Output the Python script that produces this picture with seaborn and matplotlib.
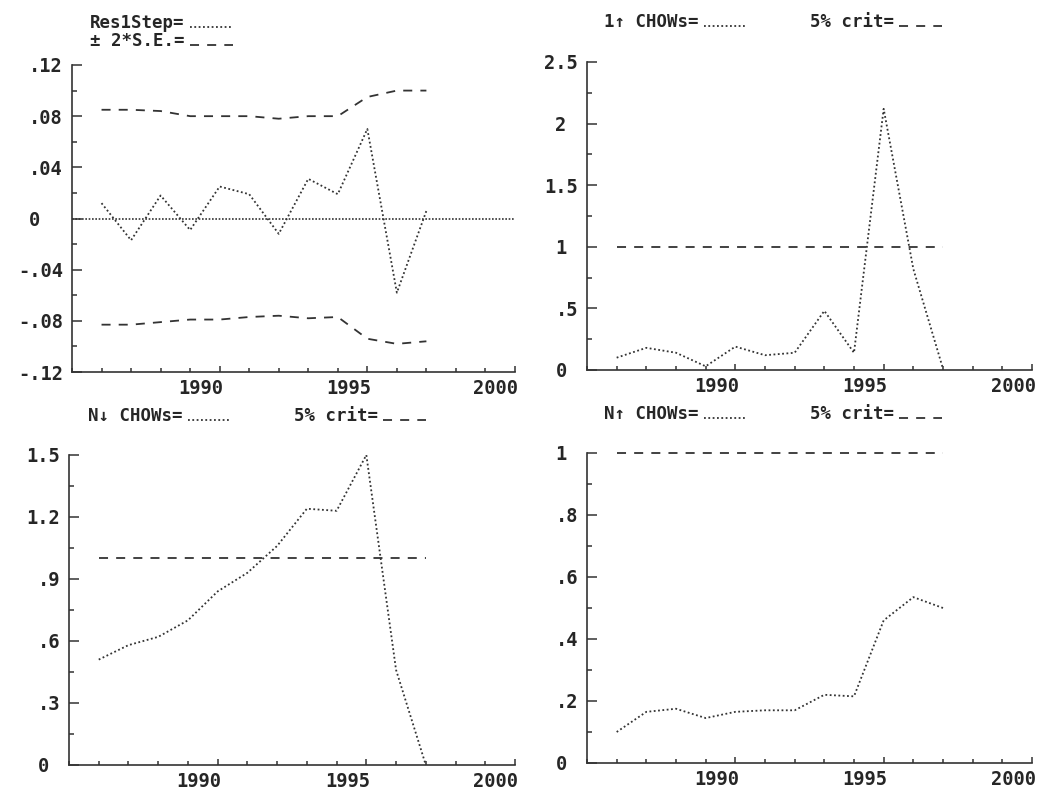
import matplotlib
matplotlib.use("Agg")
import matplotlib.pyplot as plt
import seaborn as sns
from matplotlib.ticker import FixedLocator, MultipleLocator
from matplotlib.transforms import ScaledTranslation
from matplotlib.font_manager import FontProperties

# ---------------- data ----------------
years = list(range(1986, 1998))

res1step = [0.012, -0.017, 0.018, -0.009, 0.025, 0.019, -0.012, 0.031, 0.019, 0.070, -0.058, 0.006]
se_upper = [0.085, 0.085, 0.084, 0.080, 0.080, 0.080, 0.078, 0.080, 0.080, 0.095, 0.100, 0.100]
se_lower = [-0.083, -0.083, -0.081, -0.079, -0.079, -0.077, -0.076, -0.078, -0.077, -0.094, -0.098, -0.096]

chow_1up = [0.10, 0.18, 0.14, 0.03, 0.19, 0.12, 0.14, 0.48, 0.14, 2.12, 0.82, 0.01]
chow_ndown = [0.51, 0.58, 0.62, 0.70, 0.84, 0.93, 1.06, 1.24, 1.23, 1.50, 0.46, 0.00]
chow_nup = [0.10, 0.165, 0.175, 0.145, 0.165, 0.17, 0.17, 0.22, 0.215, 0.46, 0.535, 0.50]
crit_5pct = [1.0] * 12

x_ticks = [1990, 1995, 2000]
x_labels = ["1990", "1995", "2000"]

p1_yticks = [-0.12, -0.08, -0.04, 0.0, 0.04, 0.08, 0.12]
p1_ylabels = ["-.12", "-.08", "-.04", "0", ".04", ".08", ".12"]
p2_yticks = [0, 0.5, 1.0, 1.5, 2.0, 2.5]
p2_ylabels = ["0", ".5", "1", "1.5", "2", "2.5"]
p3_yticks = [0, 0.3, 0.6, 0.9, 1.2, 1.5]
p3_ylabels = ["0", ".3", ".6", ".9", "1.2", "1.5"]
p4_yticks = [0, 0.2, 0.4, 0.6, 0.8, 1.0]
p4_ylabels = ["0", ".2", ".4", ".6", ".8", "1"]

lab_res = "Res1Step="
lab_se = "± 2*S.E.="
lab_1up = "1↑ CHOWs="
lab_ndn = "N↓ CHOWs="
lab_nup = "N↑ CHOWs="
lab_crit = "5% crit="

# ---------------- style ----------------
sns.set_theme(style="white")
plt.rcParams["font.family"] = ["DejaVu Sans Mono", "DejaVu Sans"]
plt.rcParams["font.weight"] = "bold"

W, H = 1043, 789
fig = plt.figure(figsize=(W / 100, H / 100), dpi=100)
fig.patch.set_facecolor("white")

INK = "#262626"
LINE = "#333333"
DOT = (0, (1, 1.4))
DASH = (0, (5, 4.5))
TICK_FS = 13.5
LEG_FS = 12.5


def make_ax(l, r, t, b):
    return fig.add_axes([l / W, 1 - b / H, (r - l) / W, (b - t) / H])


def style(ax, ylim, yticks, ylabels, yminor, ndec):
    ax.set_facecolor("white")
    ax.grid(False)
    ax.set_xlim(1985, 2000)
    ax.set_ylim(*ylim)
    ax.set_xlabel("")
    ax.set_ylabel("")
    for s in ("top", "right"):
        ax.spines[s].set_visible(False)
    for s in ("left", "bottom"):
        ax.spines[s].set_visible(True)
        ax.spines[s].set_color(LINE)
        ax.spines[s].set_linewidth(1.2)
    ax.xaxis.set_major_locator(FixedLocator(x_ticks))
    ax.set_xticklabels(x_labels)
    ax.xaxis.set_minor_locator(MultipleLocator(1))
    ax.yaxis.set_major_locator(FixedLocator(yticks))
    ax.set_yticklabels(ylabels)
    ax.yaxis.set_minor_locator(MultipleLocator(yminor))
    ax.tick_params(which="both", direction="in", color=LINE, labelcolor=INK,
                   labelsize=TICK_FS, width=1.1, bottom=True, left=True)
    ax.tick_params(axis="y", which="major", length=7, pad=6.5)
    ax.tick_params(axis="y", which="minor", length=3.6)
    ax.tick_params(axis="x", which="major", length=4.5, pad=5)
    ax.tick_params(axis="x", which="minor", length=2.6)
    for lab in ax.get_xticklabels():
        lab.set_fontweight("bold")
        lab.set_transform(lab.get_transform() +
                          ScaledTranslation(-19 / 100, 0, fig.dpi_scale_trans))
    adv = 0.602 * TICK_FS / 72.0
    for lab in ax.get_yticklabels():
        lab.set_fontweight("bold")
        if "." not in lab.get_text():
            lab.set_transform(lab.get_transform() +
                              ScaledTranslation(-ndec * adv, 0, fig.dpi_scale_trans))


def legend(ax, x_px, y_px, ncol, handles, labels, spacing=0.05, colsp=3.6):
    prop = FontProperties(family=["DejaVu Sans Mono", "DejaVu Sans"],
                          weight="bold", size=LEG_FS)
    leg = ax.legend(handles, labels, loc="center left",
                    bbox_to_anchor=(x_px / W, 1 - y_px / H),
                    bbox_transform=fig.transFigure, ncol=ncol,
                    markerfirst=False, frameon=False, prop=prop,
                    handlelength=2.5, handletextpad=0.3, columnspacing=colsp,
                    labelspacing=spacing, borderpad=0, borderaxespad=0)
    for t in leg.get_texts():
        t.set_color(INK)
    # sample lines sit on the text baseline, as in the reference
    for ln in leg.get_lines():
        yd = ln.get_ydata()
        ln.set_ydata([v - 0.3 * LEG_FS for v in yd])
    return leg


def dotted(ax, y, label):
    sns.lineplot(x=years, y=y, ax=ax, color=LINE, linestyle=DOT, linewidth=1.3,
                 label=label, clip_on=False, legend=False)
    return ax.lines[-1]


def dashed(ax, y, label):
    sns.lineplot(x=years, y=y, ax=ax, color=LINE, linestyle=DASH, linewidth=1.3,
                 label=label, clip_on=False, legend=False)
    return ax.lines[-1]


# ---------------- panel 1: 1-step residuals ----------------
ax1 = make_ax(72, 515, 65, 372)
h_res = dotted(ax1, res1step, lab_res)
h_se = dashed(ax1, se_upper, lab_se)
dashed(ax1, se_lower, "_nolegend_")
ax1.axhline(0, color=LINE, linestyle=(0, (1, 1)), linewidth=1.2)
style(ax1, (-0.12, 0.12), p1_yticks, p1_ylabels, 0.02, 2)
legend(ax1, 90, 32, 1, [h_res, h_se], [lab_res, lab_se], spacing=0.0)

# ---------------- panel 2: 1-up Chow ----------------
ax2 = make_ax(587, 1032, 62, 370)
h1 = dotted(ax2, chow_1up, lab_1up)
h2 = dashed(ax2, crit_5pct, lab_crit)
style(ax2, (0, 2.5), p2_yticks, p2_ylabels, 0.25, 1)
legend(ax2, 604, 22, 2, [h1, h2], [lab_1up, lab_crit])

# ---------------- panel 3: N-down Chow ----------------
ax3 = make_ax(69, 515, 455, 765)
h1 = dotted(ax3, chow_ndown, lab_ndn)
h2 = dashed(ax3, crit_5pct, lab_crit)
style(ax3, (0, 1.5), p3_yticks, p3_ylabels, 0.15, 1)
legend(ax3, 88, 416, 2, [h1, h2], [lab_ndn, lab_crit])

# ---------------- panel 4: N-up Chow ----------------
ax4 = make_ax(587, 1032, 453, 763)
h1 = dotted(ax4, chow_nup, lab_nup)
h2 = dashed(ax4, crit_5pct, lab_crit)
style(ax4, (0, 1.0), p4_yticks, p4_ylabels, 0.1, 1)
legend(ax4, 604, 414, 2, [h1, h2], [lab_nup, lab_crit])

fig.savefig("out.png", dpi=100, facecolor="white")
